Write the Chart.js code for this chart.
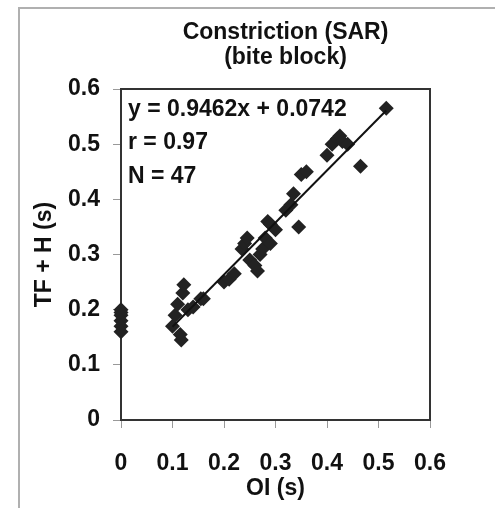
<!DOCTYPE html>
<html>
<head>
<meta charset="utf-8">
<script src="https://cdn.jsdelivr.net/npm/chart.js@4/dist/chart.umd.min.js"></script>
<style>
  html, body { margin: 0; padding: 0; background: #fff; overflow: hidden; }
  #wrap { position: relative; width: 495px; height: 508px; }
</style>
</head>
<body>
<div id="wrap"><canvas id="c" width="495" height="508"></canvas></div>
<script>
// ---- data ----
const titleLines = ['Constriction (SAR)', '(bite block)'];
const statLines = ['y = 0.9462x + 0.0742', 'r = 0.97', 'N = 47'];
const xTitle = 'OI (s)';
const yTitle = 'TF + H (s)';
const xTickLabels = ['0', '0.1', '0.2', '0.3', '0.4', '0.5', '0.6'];
const yTickLabels = ['0', '0.1', '0.2', '0.3', '0.4', '0.5', '0.6'];

// OI (s) values
const oiValues = [
  0, 0, 0, 0, 0, 0,
  0.100, 0.105, 0.110, 0.120, 0.122, 0.115, 0.117, 0.130, 0.140, 0.155, 0.160,
  0.200, 0.210, 0.220, 0.235, 0.240, 0.245, 0.250, 0.260, 0.265, 0.270, 0.275,
  0.280, 0.285, 0.290, 0.290, 0.300, 0.320, 0.330, 0.335, 0.345, 0.350, 0.360,
  0.400, 0.410, 0.420, 0.425, 0.430, 0.440, 0.465, 0.515
];
// TF + H (s) values
const tfhValues = [
  0.200, 0.195, 0.190, 0.180, 0.170, 0.160,
  0.170, 0.190, 0.210, 0.230, 0.245, 0.155, 0.145, 0.200, 0.205, 0.220, 0.220,
  0.250, 0.255, 0.265, 0.310, 0.320, 0.330, 0.290, 0.280, 0.270, 0.300, 0.310,
  0.330, 0.360, 0.320, 0.355, 0.345, 0.380, 0.390, 0.410, 0.350, 0.445, 0.450,
  0.480, 0.500, 0.510, 0.515, 0.505, 0.500, 0.460, 0.565
];
// regression line end points (as drawn)
const trendX = [0.100, 0.515];
const trendY = [0.169, 0.561];

const FONT = '"Liberation Sans", Arial, sans-serif';

const scatterPoints = oiValues.map((x, i) => ({ x: x, y: tfhValues[i] }));
const trendPoints = trendX.map((x, i) => ({ x: x, y: trendY[i] }));

const decorPlugin = {
  id: 'decor',
  beforeDraw(chart) {
    const ctx = chart.ctx;
    ctx.save();
    ctx.fillStyle = '#fff';
    ctx.fillRect(0, 0, chart.width, chart.height);
    // outer figure frame (top & left visible)
    ctx.strokeStyle = '#b0b0b0';
    ctx.lineWidth = 2;
    ctx.beginPath();
    ctx.moveTo(19, chart.height);
    ctx.lineTo(19, 8);
    ctx.lineTo(chart.width, 8);
    ctx.stroke();
    ctx.restore();
  },
  beforeDatasetsDraw(chart) {
    const ctx = chart.ctx;
    const a = chart.chartArea;
    ctx.save();
    // plot frame
    ctx.strokeStyle = '#333';
    ctx.lineWidth = 2;
    ctx.strokeRect(a.left, a.top, a.right - a.left, a.bottom - a.top);
    ctx.restore();
  },
  afterDatasetsDraw(chart) {
    const ctx = chart.ctx;
    const a = chart.chartArea;
    ctx.save();
    // title
    ctx.fillStyle = '#111';
    ctx.font = 'bold 23px ' + FONT;
    ctx.textAlign = 'center';
    ctx.textBaseline = 'middle';
    const cx = (a.left + a.right) / 2 + 10;
    ctx.fillText(titleLines[0], cx, a.top - 56);
    ctx.fillText(titleLines[1], cx, a.top - 31);
    // stats
    ctx.textAlign = 'left';
    ctx.fillText(statLines[0], a.left + 7, a.top + 21);
    ctx.fillText(statLines[1], a.left + 7, a.top + 54);
    ctx.fillText(statLines[2], a.left + 7, a.top + 88);
    ctx.restore();
  }
};

new Chart(document.getElementById('c'), {
  type: 'scatter',
  data: {
    datasets: [
      {
        type: 'line',
        data: trendPoints,
        borderColor: '#111',
        borderWidth: 2,
        pointRadius: 0,
        fill: false,
        clip: false,
        order: 0
      },
      {
        data: scatterPoints,
        pointStyle: 'rectRot',
        pointRadius: 7.5,
        pointBackgroundColor: '#222',
        pointBorderColor: '#222',
        pointBorderWidth: 0,
        clip: false,
        order: 1
      }
    ]
  },
  options: {
    responsive: false,
    animation: false,
    events: [],
    layout: { padding: { left: 0, top: 89, right: 65, bottom: 0 } },
    plugins: { legend: { display: false }, tooltip: { enabled: false } },
    scales: {
      x: {
        type: 'linear',
        min: 0, max: 0.6,
        afterFit(s) { s.height = 88; },
        border: { display: false },
        grid: { drawOnChartArea: false, drawTicks: true, tickLength: 8, color: '#999', lineWidth: 1 },
        ticks: {
          stepSize: 0.1,
          padding: 22,
          color: '#111',
          font: { family: FONT, size: 23, weight: 'bold' },
          callback: (v, i) => xTickLabels[i]
        },
        title: {
          display: true, text: xTitle, color: '#111',
          font: { family: FONT, size: 23, weight: 'bold' },
          padding: { top: 0, bottom: 6 }
        }
      },
      y: {
        type: 'linear',
        min: 0, max: 0.6,
        afterFit(s) { s.width = 121; },
        border: { display: false },
        grid: { drawOnChartArea: false, drawTicks: true, tickLength: 8, color: '#999', lineWidth: 1 },
        ticks: {
          stepSize: 0.1,
          padding: 13,
          color: '#111',
          font: { family: FONT, size: 23, weight: 'bold' },
          callback: (v, i) => yTickLabels[i]
        },
        title: {
          display: true, text: yTitle, color: '#111',
          font: { family: FONT, size: 23, weight: 'bold' },
          padding: { top: 31, bottom: 0 }
        }
      }
    }
  },
  plugins: [decorPlugin]
});
</script>
</body>
</html>
